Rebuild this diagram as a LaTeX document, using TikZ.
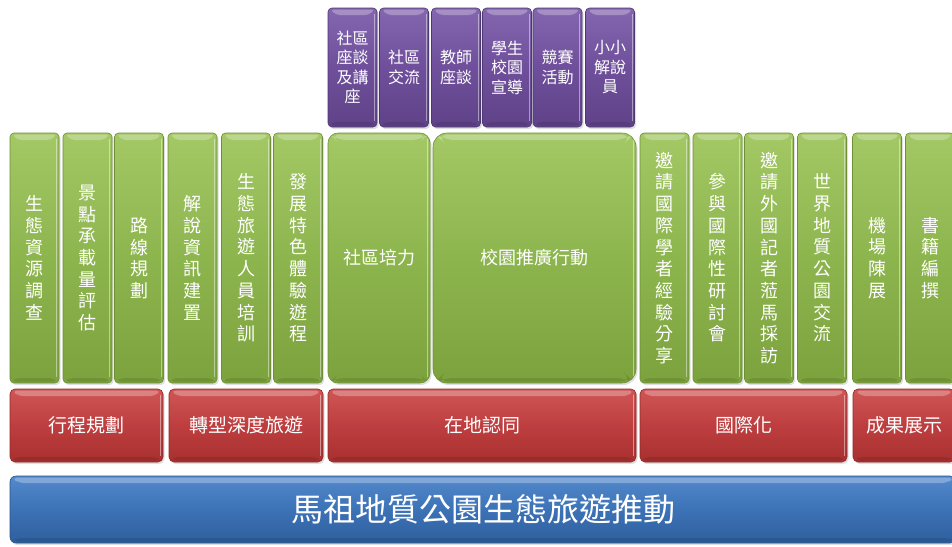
\documentclass[tikz,border=0pt]{standalone}
\usepackage{fontspec}
\setmainfont{Noto Sans CJK TC}
\usetikzlibrary{shadows}
\definecolor{gLight}{HTML}{A3C865}
\definecolor{gMid}{HTML}{8DB54E}
\definecolor{gDark}{HTML}{7CA23D}
\definecolor{gEdge}{HTML}{6E8F36}
\definecolor{rLight}{HTML}{CF5655}
\definecolor{rMid}{HTML}{BE3E40}
\definecolor{rDark}{HTML}{A8302F}
\definecolor{rEdge}{HTML}{8E2A28}
\definecolor{pLight}{HTML}{8466AF}
\definecolor{pMid}{HTML}{6F4F9B}
\definecolor{pDark}{HTML}{5F4288}
\definecolor{pEdge}{HTML}{4E3872}
\definecolor{bLight}{HTML}{538ACC}
\definecolor{bMid}{HTML}{3C72B6}
\definecolor{bDark}{HTML}{2F5F9E}
\definecolor{bEdge}{HTML}{2A5288}
\begin{document}
\begin{tikzpicture}[x=1pt,y=1pt,
  base/.style={inner sep=0pt, text=white, align=center,
    drop shadow={opacity=0.25, shadow xshift=1.5pt, shadow yshift=-2pt},
    path picture={
      \fill[white,opacity=0.28]
        ([xshift=2pt,yshift=-1.5pt]path picture bounding box.north west) --
        ([xshift=-2pt,yshift=-1.5pt]path picture bounding box.north east) --
        ([xshift=-8pt,yshift=-7pt]path picture bounding box.north east) --
        ([xshift=8pt,yshift=-7pt]path picture bounding box.north west) -- cycle;
      \draw[white,opacity=0.45,line width=1pt]
        ([xshift=-2.5pt,yshift=-6pt]path picture bounding box.north east) --
        ([xshift=-2.5pt,yshift=6pt]path picture bounding box.south east);
      \fill[black,opacity=0.10]
        ([xshift=2pt,yshift=1.5pt]path picture bounding box.south west) --
        ([xshift=-2pt,yshift=1.5pt]path picture bounding box.south east) --
        ([xshift=-6pt,yshift=5pt]path picture bounding box.south east) --
        ([xshift=6pt,yshift=5pt]path picture bounding box.south west) -- cycle;
    }},
  gcol/.style={base, rounded corners=4pt, draw=gEdge, line width=0.6pt,
    top color=gLight, bottom color=gDark, middle color=gMid,
    minimum width=49pt, minimum height=250pt,
    font=\fontsize{18}{21.7}\selectfont},
  gbig/.style={gcol, minimum width=#1},
  rbox/.style={base, rounded corners=5pt, draw=rEdge, line width=0.6pt,
    top color=rLight, bottom color=rDark, middle color=rMid,
    minimum width=#1, minimum height=73pt,
    font=\fontsize{19}{22}\selectfont},
  pbox/.style={base, rounded corners=4pt, draw=pEdge, line width=0.6pt,
    top color=pLight, bottom color=pDark, middle color=pMid,
    minimum width=49pt, minimum height=119pt,
    font=\fontsize{16}{19.5}\selectfont},
  bbox/.style={base, rounded corners=6pt, draw=bEdge, line width=0.6pt,
    top color=bLight, bottom color=bDark, middle color=bMid,
    minimum width=#1, minimum height=67pt,
    font=\fontsize{32}{34}\selectfont}
]
\useasboundingbox (0,0) rectangle (952,-546);
\clip (0,0) rectangle (952,-546);
\fill[white] (0,0) rectangle (952,-546);

% purple row
\node[pbox] (p1) at (352.5,-67.5) {社區\\座談\\及講\\座};
\node[pbox] (p2) at (404,-67.5) {社區\\交流};
\node[pbox] (p3) at (456,-67.5) {教師\\座談};
\node[pbox] (p4) at (507,-67.5) {學生\\校園\\宣導};
\node[pbox] (p5) at (557.5,-67.5) {競賽\\活動};
\node[pbox] (p6) at (610,-67.5) {小小\\解說\\員};

% green columns
\node[gcol] (g1) at (34.5,-258) {生\\態\\資\\源\\調\\查};
\node[gcol] (g2) at (87.5,-258) {景\\點\\承\\載\\量\\評\\估};
\node[gcol] (g3) at (139,-258) {路\\線\\規\\劃};
\node[gcol] (g4) at (192.5,-258) {解\\說\\資\\訊\\建\\置};
\node[gcol] (g5) at (246,-258) {生\\態\\旅\\遊\\人\\員\\培\\訓};
\node[gcol] (g6) at (298,-258) {發\\展\\特\\色\\體\\驗\\遊\\程};
\node[gbig=102pt, rounded corners=10pt] (gb1) at (379,-258) {社區培力};
\node[gbig=203pt, rounded corners=14pt] (gb2) at (534.5,-258) {校園推廣行動};
\node[gcol] (g7) at (664.5,-258) {邀\\請\\國\\際\\學\\者\\經\\驗\\分\\享};
\node[gcol] (g8) at (717.5,-258) {參\\與\\國\\際\\性\\研\\討\\會};
\node[gcol] (g9) at (769,-258) {邀\\請\\外\\國\\記\\者\\蒞\\馬\\採\\訪};
\node[gcol] (g10) at (822,-258) {世\\界\\地\\質\\公\\園\\交\\流};
\node[gcol] (g11) at (877,-258) {機\\場\\陳\\展};
\node[gcol] (g12) at (930,-258) {書\\籍\\編\\撰};

% red row
\node[rbox=153pt] (r1) at (86.5,-425.5) {行程規劃};
\node[rbox=154pt] (r2) at (246,-425.5) {轉型深度旅遊};
\node[rbox=308pt] (r3) at (482,-425.5) {在地認同};
\node[rbox=207pt] (r4) at (743.5,-425.5) {國際化};
\node[rbox=102pt] (r5) at (904,-425.5) {成果展示};

% blue base
\node[bbox=946pt] (b) at (483,-509.5) {馬祖地質公園生態旅遊推動};
\end{tikzpicture}
\end{document}
